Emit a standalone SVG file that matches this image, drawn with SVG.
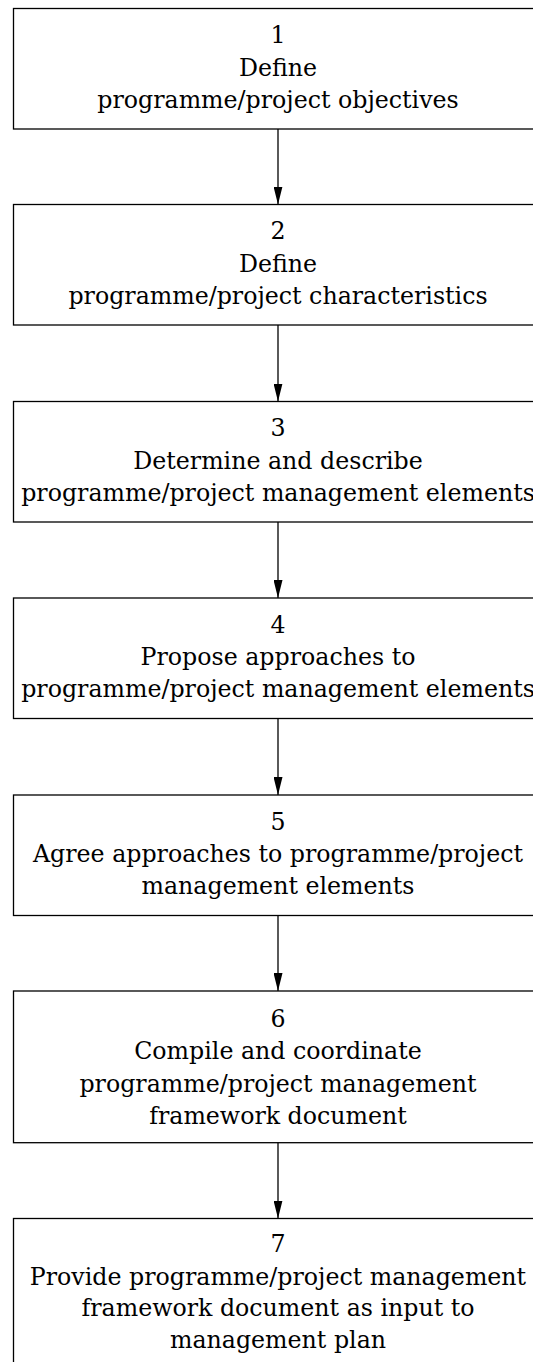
<svg xmlns="http://www.w3.org/2000/svg" width="533" height="1362" viewBox="0 0 533 1362">
<style>
.box{fill:#fff;stroke:#000;stroke-width:1.3}
.t{font-family:"DejaVu Serif","Liberation Serif",serif;font-size:23.7px;fill:#000;text-anchor:middle}
.c{stroke:#000;stroke-width:1.3;fill:none}
</style>
<defs>
<marker id="ah" markerUnits="userSpaceOnUse" markerWidth="18" markerHeight="9" refX="18" refY="4.5" orient="auto" viewBox="0 0 18 9">
<path d="M0,0 L18,4.5 L0,9 Z" fill="#000"/>
</marker>
</defs>
<rect width="533" height="1362" fill="#fff"/>
<g id="n1">
<rect class="box" x="13.5" y="8.5" width="530" height="120.5"/>
<text class="t" x="278" y="43.3">1</text>
<text class="t" x="278" y="75.6">Define</text>
<text class="t" x="278" y="107.8">programme/project objectives</text>
</g>
<g id="n2">
<rect class="box" x="13.5" y="204.5" width="530" height="120.5"/>
<text class="t" x="278" y="239.3">2</text>
<text class="t" x="278" y="271.6">Define</text>
<text class="t" x="278" y="303.8">programme/project characteristics</text>
</g>
<g id="n3">
<rect class="box" x="13.5" y="401.5" width="530" height="120.5"/>
<text class="t" x="278" y="436.3">3</text>
<text class="t" x="278" y="468.6">Determine and describe</text>
<text class="t" x="278" y="500.8">programme/project management elements</text>
</g>
<g id="n4">
<rect class="box" x="13.5" y="598" width="530" height="120.5"/>
<text class="t" x="278" y="632.8">4</text>
<text class="t" x="278" y="665.1">Propose approaches to</text>
<text class="t" x="278" y="697.3">programme/project management elements</text>
</g>
<g id="n5">
<rect class="box" x="13.5" y="795" width="530" height="120.5"/>
<text class="t" x="278" y="829.8">5</text>
<text class="t" x="278" y="862.1">Agree approaches to programme/project</text>
<text class="t" x="278" y="894.3">management elements</text>
</g>
<g id="n6">
<rect class="box" x="13.5" y="991" width="530" height="151.7"/>
<text class="t" x="278" y="1027">6</text>
<text class="t" x="278" y="1059.3">Compile and coordinate</text>
<text class="t" x="278" y="1091.5">programme/project management</text>
<text class="t" x="278" y="1123.8">framework document</text>
</g>
<g id="n7">
<rect class="box" x="13.5" y="1218.5" width="530" height="160"/>
<text class="t" x="278" y="1252.3">7</text>
<text class="t" x="278" y="1284.5">Provide programme/project management</text>
<text class="t" x="278" y="1316">framework document as input to</text>
<text class="t" x="278" y="1347.5">management plan</text>
</g>
<g id="connectors">
<line class="c" x1="278" y1="129" x2="278" y2="204.5" marker-end="url(#ah)"/>
<line class="c" x1="278" y1="325" x2="278" y2="401.5" marker-end="url(#ah)"/>
<line class="c" x1="278" y1="522" x2="278" y2="598" marker-end="url(#ah)"/>
<line class="c" x1="278" y1="718.5" x2="278" y2="795" marker-end="url(#ah)"/>
<line class="c" x1="278" y1="915.5" x2="278" y2="991" marker-end="url(#ah)"/>
<line class="c" x1="278" y1="1142.7" x2="278" y2="1218.5" marker-end="url(#ah)"/>
</g>
</svg>
